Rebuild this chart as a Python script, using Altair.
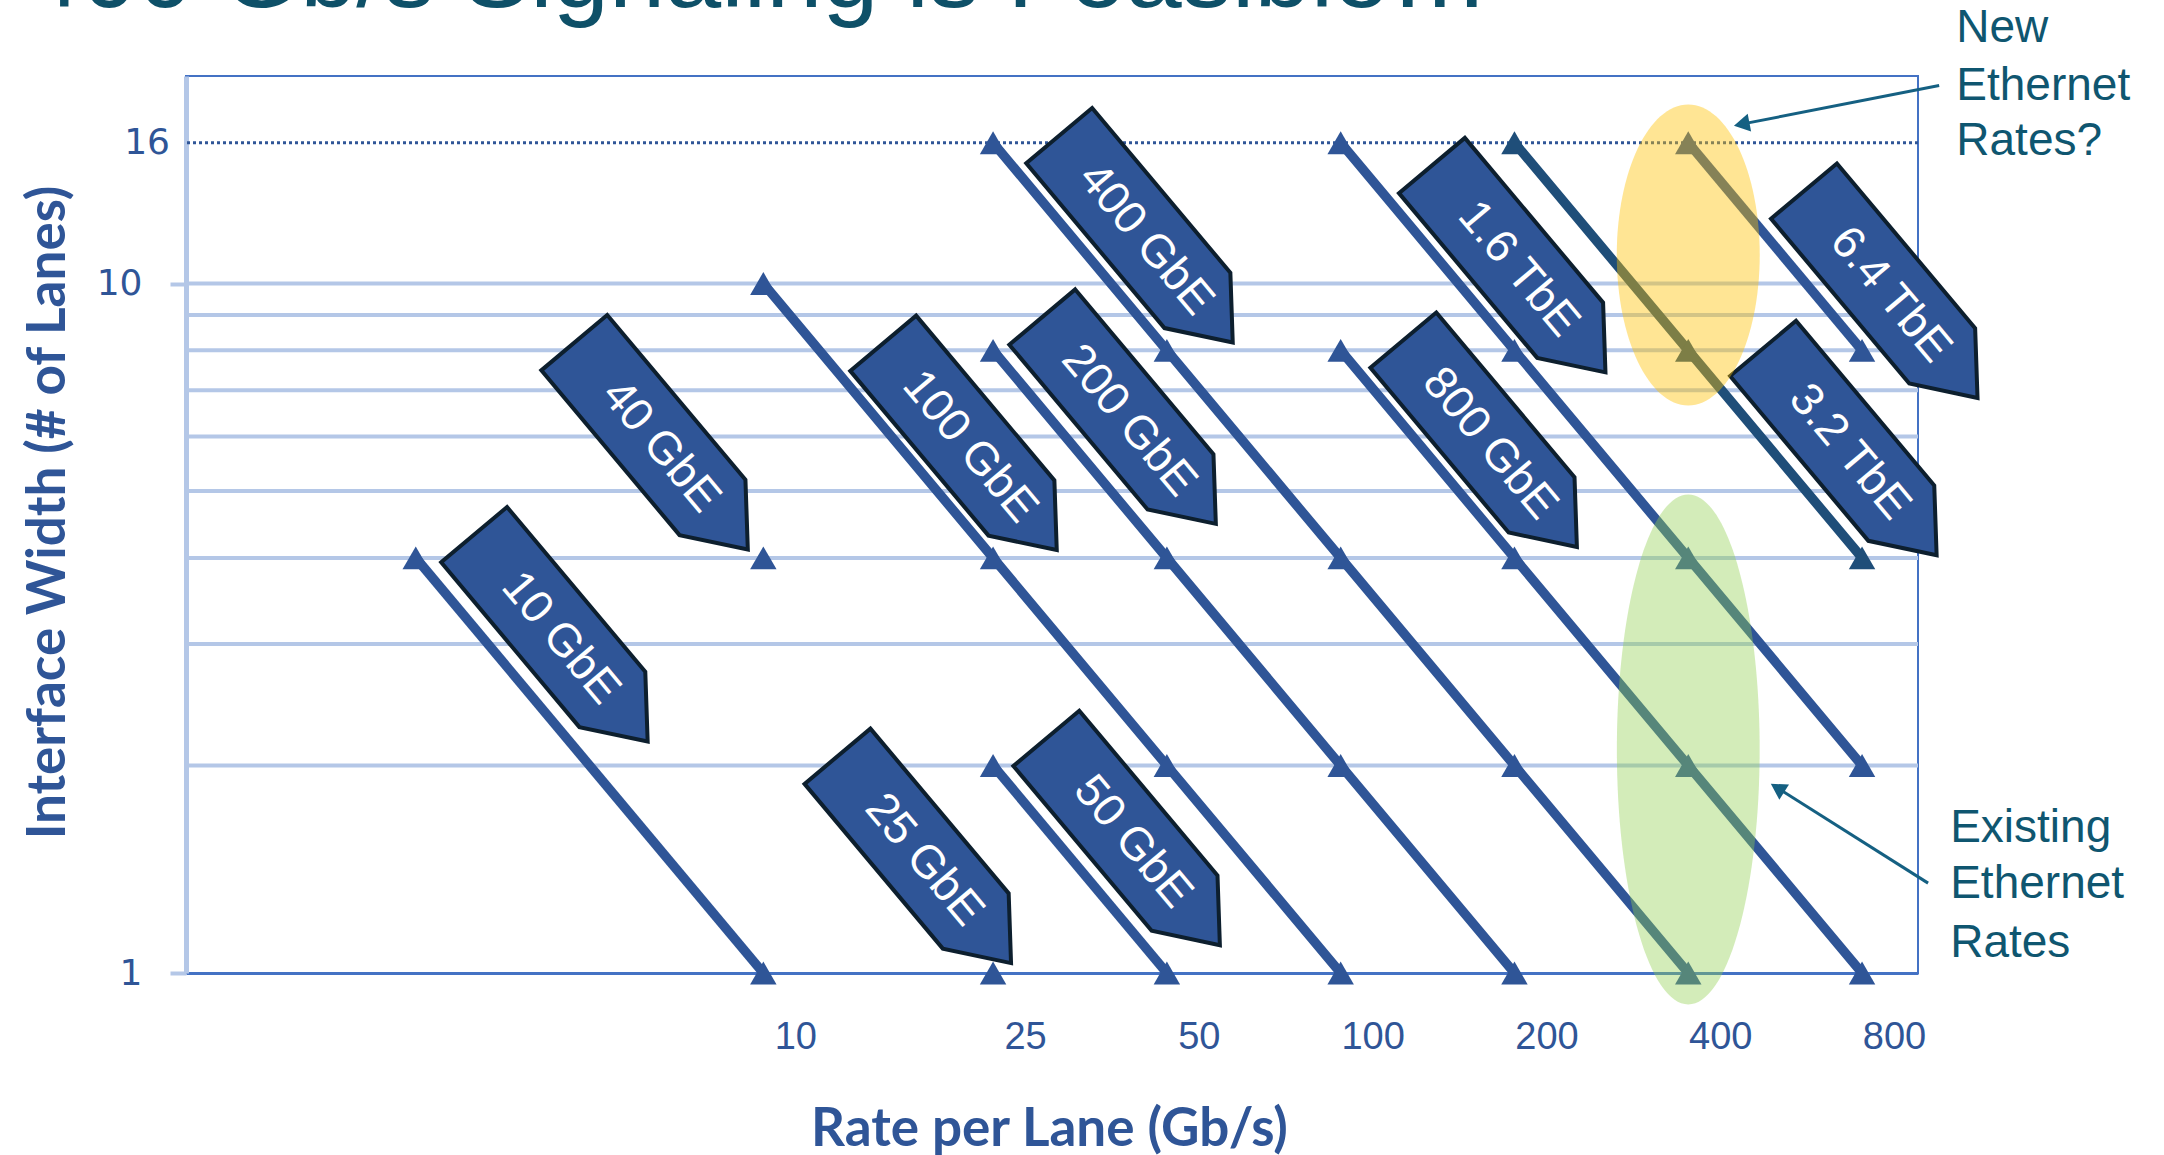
import altair as alt
import pandas as pd

# ---------------- data ----------------
series_names = ["10 GbE", "40 GbE", "25 GbE", "50 GbE", "100 GbE", "200 GbE",
                "400 GbE", "800 GbE", "1.6 TbE", "3.2 TbE", "6.4 TbE"]
series_rates = [[2.5, 10], [10], [25], [25, 50], [10, 25, 50, 100],
                [25, 50, 100, 200], [25, 50, 100, 200, 400], [100, 200, 400, 800],
                [100, 200, 400, 800], [200, 400, 800], [400, 800]]
series_lanes = [[4, 1], [4], [1], [2, 1], [10, 4, 2, 1], [8, 4, 2, 1],
                [16, 8, 4, 2, 1], [8, 4, 2, 1], [16, 8, 4, 2], [16, 8, 4], [16, 8]]
series_colors = ["#2F5597"] * 9 + ["#1F4E79", "#2F5597"]

# callout (label) centres, in data units
label_rate = [4.46, 6.65, 19.0, 43.7, 22.8, 43.0, 46.0, 181.5, 203.4, 762, 897]
label_lanes = [3.06, 5.81, 1.46, 1.55, 5.80, 6.33, 11.6, 5.86, 10.5, 5.70, 9.64]

x_ticks = [10, 25, 50, 100, 200, 400, 800]
y_ticks = [1, 10]
grid_lanes = [2, 3, 4, 5, 6, 7, 8, 9, 10]
marker_lanes = [16]

# highlight ellipses
ell_rate = [400, 400]
ell_lanes = [11.0, 2.11]

# annotation texts
new_text = ["New", "Ethernet", "Rates?"]
new_rate = [1165, 1165, 1165]
new_lanes = [23.5, 19.37, 16.11]
old_text = ["Existing", "Ethernet", "Rates"]
old_rate = [1137, 1137, 1137]
old_lanes = [1.623, 1.344, 1.107]

# arrows (tail -> head)
arrow_tail_rate = [1088, 1041]
arrow_tail_lanes = [19.37, 1.35]
arrow_head_rate = [495, 571]
arrow_head_lanes = [17.03, 1.855]
arrow_angle = [259, 302]

title_text = "400 Gb/s Signaling is Feasible…"

# ---------------- tables ----------------
rows = []
for name, rs, ls, c in zip(series_names, series_rates, series_lanes, series_colors):
    for i, (r, l) in enumerate(zip(rs, ls)):
        rows.append({"series": name, "idx": i, "rate": r, "lanes": l, "color": c})
df_lines = pd.DataFrame(rows)
df_labels = pd.DataFrame({"label": series_names, "rate": label_rate, "lanes": label_lanes})
df_grid = pd.DataFrame({"lanes": grid_lanes})
df_16 = pd.DataFrame({"lanes": marker_lanes, "t": [str(v) for v in marker_lanes]})
df_ell_y = pd.DataFrame({"rate": ell_rate[:1], "lanes": ell_lanes[:1]})
df_ell_g = pd.DataFrame({"rate": ell_rate[1:], "lanes": ell_lanes[1:]})
df_notes = pd.DataFrame({"t": new_text + old_text, "rate": new_rate + old_rate,
                         "lanes": new_lanes + old_lanes})
df_arrows = pd.DataFrame({"rate": arrow_tail_rate, "lanes": arrow_tail_lanes,
                          "rate2": arrow_head_rate, "lanes2": arrow_head_lanes})
df_heads = pd.DataFrame({"rate": arrow_head_rate, "lanes": arrow_head_lanes,
                         "ang": arrow_angle})
df_title = pd.DataFrame({"t": [title_text]})

# ---------------- scales / axes ----------------
BLUE = "#2F5597"
TEAL = "#0F5670"
xscale = alt.Scale(type="log", domain=[1, 1000], nice=False, zero=False)
yscale = alt.Scale(type="log", domain=[1, 20], nice=False, zero=False)

xaxis = alt.Axis(values=x_ticks, title="Rate per Lane (Gb/s)", grid=False,
                 ticks=False, tickSize=0, labelOffset=32, labelPadding=45,
                 labelFont="Liberation Sans", labelFontSize=38, labelColor=BLUE,
                 domainColor="#4472C4", domainWidth=3,
                 titleFont="Lato", titleFontWeight="bold", titleFontSize=53,
                 titleColor=BLUE, titleX=863, titleY=172, titleAnchor="middle",
                 titleAlign="center", titleBaseline="alphabetic", format="d")
yaxis = alt.Axis(values=y_ticks, title="Interface Width (# of Lanes)", grid=False,
                 ticks=True, tickSize=16, tickColor="#B4C7E7", tickWidth=4,
                 labelPadding=28, labelFont="DejaVu Sans", labelFontSize=36,
                 labelColor=BLUE, domainColor="#B4C7E7", domainWidth=5,
                 titleFont="Lato", titleFontWeight="bold", titleFontSize=53,
                 titleColor=BLUE, titleX=-122, titleY=436, titleAngle=-90,
                 titleAlign="center", titleBaseline="alphabetic", format="d")


def X(field="rate"):
    return alt.X(f"{field}:Q", scale=xscale, axis=xaxis)


def Y(field="lanes"):
    return alt.Y(f"{field}:Q", scale=yscale, axis=yaxis)


grid = alt.Chart(df_grid).mark_rule(color="#B4C7E7", strokeWidth=4).encode(y=Y())

dotted = alt.Chart(df_16).mark_rule(color=BLUE, strokeWidth=3, strokeDash=[3, 3]).encode(y=Y())

lines = alt.Chart(df_lines).mark_line(strokeWidth=9.5, strokeCap="butt").encode(
    x=X(), y=Y(), detail="series:N", order="idx:Q",
    color=alt.Color("color:N", scale=None))

tris = alt.Chart(df_lines).mark_point(shape="triangle-up", filled=True, size=700,
                                      opacity=1).encode(
    x=X(), y=Y(), color=alt.Color("color:N", scale=None))

callout_path = "M -1 -0.3185 L 0.593 -0.3185 L 1 0 L 0.593 0.3185 L -1 0.3185 Z"
callouts = alt.Chart(df_labels).mark_point(
    shape=callout_path, size=72900, angle=50, filled=True, fill=BLUE,
    fillOpacity=1, opacity=1, stroke="#0D1F2E", strokeWidth=4).encode(x=X(), y=Y())

callout_text = alt.Chart(df_labels).mark_text(
    angle=50, color="white", font="Liberation Sans", fontSize=46,
    align="center", baseline="middle").encode(x=X(), y=Y(), text="label:N")

ell_yellow = alt.Chart(df_ell_y).mark_point(
    shape="M 0 -1 A 0.475 1 0 1 1 0 1 A 0.475 1 0 1 1 0 -1 Z", size=90601,
    filled=True, fill="#FFC000", fillOpacity=0.42, opacity=1, strokeWidth=0).encode(x=X(), y=Y())

ell_green = alt.Chart(df_ell_g).mark_point(
    shape="M 0 -1 A 0.28 1 0 1 1 0 1 A 0.28 1 0 1 1 0 -1 Z", size=260100,
    filled=True, fill="#92D050", fillOpacity=0.4, opacity=1, strokeWidth=0).encode(x=X(), y=Y())

arrows = alt.Chart(df_arrows).mark_rule(color="#156082", strokeWidth=3).encode(
    x=X(), y=Y(), x2="rate2:Q", y2="lanes2:Q")

heads = alt.Chart(df_heads).mark_point(shape="triangle-up", filled=True, size=330,
                                       opacity=1, color="#156082").encode(
    x=X(), y=Y(), angle=alt.Angle("ang:Q", scale=None))

notes = alt.Chart(df_notes).mark_text(
    align="left", baseline="middle", font="Liberation Sans", fontSize=46,
    color=TEAL).encode(x=X(), y=Y(), text="t:N")

label16 = alt.Chart(df_16).mark_text(
    align="right", baseline="middle", font="DejaVu Sans", fontSize=36,
    color=BLUE).encode(x=alt.value(-16), y=Y(), text="t:N")

title = alt.Chart(df_title).mark_text(
    align="left", baseline="alphabetic", font="Liberation Sans", fontSize=101,
    color="#0E5068").encode(x=alt.value(-161), y=alt.value(-69), text="t:N")

chart = alt.layer(
    grid, dotted, lines, tris, callouts, callout_text, ell_yellow, ell_green,
    arrows, heads, notes, label16, title
).properties(
    width=1732, height=897,
    padding={"left": 186, "top": 76, "right": 246, "bottom": 182},
    autosize=alt.AutoSizeParams(type="none"),
).configure_view(stroke="#4472C4", strokeWidth=2)

chart.save("out.html", embed_options={"renderer": "svg", "actions": False})
